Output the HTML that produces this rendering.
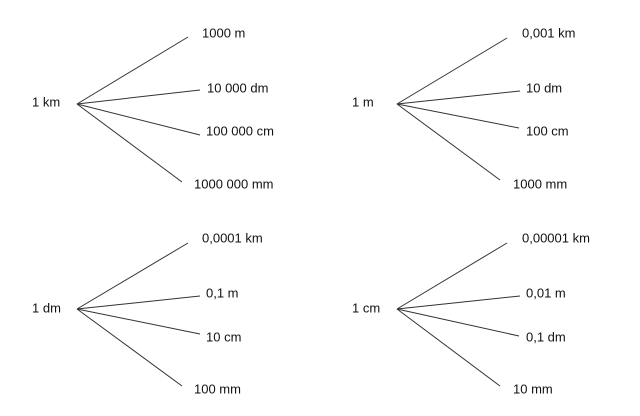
<!DOCTYPE html>
<html><head><meta charset="utf-8"><style>
body{margin:0;background:#fff}
svg text{font-family:"Liberation Sans",Arial,sans-serif;font-size:13px;fill:#111;dominant-baseline:central}
line{stroke:#333;stroke-width:1}
</style></head><body>
<svg width="640" height="411" xmlns="http://www.w3.org/2000/svg">
<g>
<line x1="77" y1="104" x2="188" y2="37"/><line x1="77" y1="104" x2="200" y2="90"/><line x1="77" y1="104" x2="200" y2="135"/><line x1="77" y1="104" x2="182" y2="182"/>
<text x="32" y="102">1 km</text><text x="202" y="33">1000 m</text><text x="207" y="88">10 000 dm</text><text x="206" y="131">100 000 cm</text><text x="194" y="184">1000 000 mm</text>
</g>
<g>
<line x1="397" y1="104" x2="507" y2="38"/><line x1="397" y1="104" x2="520" y2="91"/><line x1="397" y1="104" x2="519" y2="128"/><line x1="397" y1="104" x2="500" y2="180"/>
<text x="352" y="102">1 m</text><text x="522" y="33">0,001 km</text><text x="526" y="88">10 dm</text><text x="526" y="131">100 cm</text><text x="513" y="184">1000 mm</text>
</g>
<g>
<line x1="77" y1="309" x2="188" y2="243"/><line x1="77" y1="309" x2="200" y2="296"/><line x1="77" y1="309" x2="200" y2="334"/><line x1="77" y1="309" x2="182" y2="386"/>
<text x="32" y="308">1 dm</text><text x="202" y="238">0,0001 km</text><text x="206" y="293">0,1 m</text><text x="206" y="337">10 cm</text><text x="194" y="389">100 mm</text>
</g>
<g>
<line x1="397" y1="309" x2="507" y2="243"/><line x1="397" y1="309" x2="520" y2="296"/><line x1="397" y1="309" x2="519" y2="336"/><line x1="397" y1="309" x2="500" y2="386"/>
<text x="352" y="308">1 cm</text><text x="522" y="238">0,00001 km</text><text x="526" y="293">0,01 m</text><text x="526" y="337">0,1 dm</text><text x="513" y="389">10 mm</text>
</g>
</svg>
</body></html>
